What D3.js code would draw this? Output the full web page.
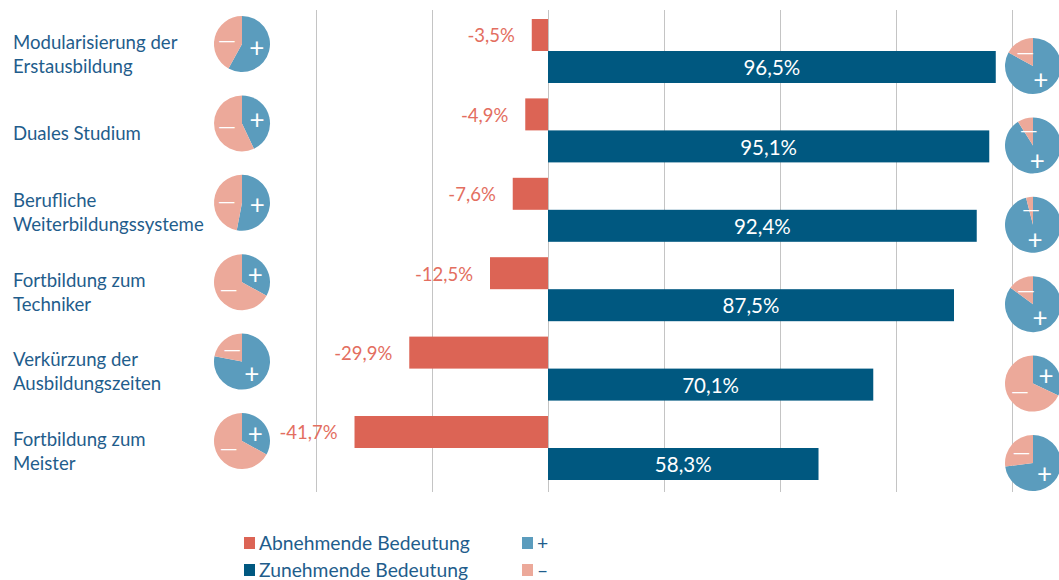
<!DOCTYPE html>
<html>
  <head lang="de">
    <meta charset="utf-8">
    <title>Bedeutung</title>
    <script src="https://cdn.jsdelivr.net/npm/d3@7"></script>
    <style>
      body { margin: 0; background: #fff; }
      text { font-family: Lato, "Open Sans", sans-serif; }
    </style>
  </head>
  <body>
    <script>

      // data
      var categories = [
        ["Modularisierung der", "Erstausbildung"],
        ["Duales Studium"],
        ["Berufliche", "Weiterbildungssysteme"],
        ["Fortbildung zum", "Techniker"],
        ["Verkürzung der", "Ausbildungszeiten"],
        ["Fortbildung zum", "Meister"]
      ];
      var abnehmend = [-3.5, -4.9, -7.6, -12.5, -29.9, -41.7];
      var zunehmend = [96.5, 95.1, 92.4, 87.5, 70.1, 58.3];
      // share of "+" in the small pies (percent)
      var pieLeftPlus = [58, 43, 53, 33, 78, 33];
      var pieRightPlus = [83, 91, 96, 85, 32, 73];
      var gridTicks = [-50, -25, 0, 25, 50, 75, 100];

      var red = "#dc6455", dark = "#005880", pieBlue = "#5b9cbd", pink = "#eca99a";
      var textBlue = "#1f5d8c";

      var width = 1059, height = 580;
      var svg = d3.select("body").append("svg")
          .attr("width", width)
          .attr("height", height);

      var x = d3.scaleLinear().domain([-50, 100]).range([316, 1012]);
      var y = d3.scaleBand()
          .domain(d3.range(categories.length))
          .range([19, 19 + 6 * 79.4]);
      var barH = 32;

      function fmt(v) { return v.toFixed(1).replace(".", ",") + "%"; }

      // grid lines
      svg.append("g").selectAll("line")
          .data(gridTicks)
          .enter().append("line")
          .attr("x1", function(d) { return x(d) + 0.5; })
          .attr("x2", function(d) { return x(d) + 0.5; })
          .attr("y1", 10)
          .attr("y2", 492)
          .attr("stroke", "#c4c4c4")
          .attr("stroke-width", 1);

      var rows = svg.append("g").selectAll("g")
          .data(categories)
          .enter().append("g");

      // category labels
      rows.each(function(lines, i) {
        var g = d3.select(this);
        var top = y(i) + 23 + (lines.length == 1 ? 12 : 0);
        lines.forEach(function(t, j) {
          g.append("text")
            .attr("x", 13)
            .attr("y", top + j * 24)
            .attr("dy", "0.35em")
            .attr("font-size", 18.6)
            .attr("fill", textBlue)
            .text(t);
        });
      });

      // red bars
      rows.append("rect")
          .attr("x", function(d, i) { return x(abnehmend[i]); })
          .attr("y", function(d, i) { return y(i); })
          .attr("width", function(d, i) { return x(0) - x(abnehmend[i]); })
          .attr("height", barH)
          .attr("fill", red);

      rows.append("text")
          .attr("x", function(d, i) { return x(abnehmend[i]) - 17; })
          .attr("y", function(d, i) { return y(i) + barH / 2 + 1; })
          .attr("dy", "0.35em")
          .attr("text-anchor", "end")
          .attr("font-size", 18.5)
          .attr("fill", "#e36e60")
          .text(function(d, i) { return fmt(abnehmend[i]); });

      // blue bars
      rows.append("rect")
          .attr("x", x(0))
          .attr("y", function(d, i) { return y(i) + barH; })
          .attr("width", function(d, i) { return x(zunehmend[i]) - x(0); })
          .attr("height", barH)
          .attr("fill", dark);

      rows.append("text")
          .attr("x", function(d, i) { return (x(0) + x(zunehmend[i])) / 2; })
          .attr("y", function(d, i) { return y(i) + barH * 1.5 + 1; })
          .attr("dy", "0.35em")
          .attr("text-anchor", "middle")
          .attr("font-size", 20.5)
          .attr("fill", "#fff")
          .text(function(d, i) { return fmt(zunehmend[i]); });

      // small pies
      var r = 28;
      var pie = d3.pie().sort(null);
      var arc = d3.arc().innerRadius(0).outerRadius(r);
      var labelArc = d3.arc().innerRadius(r * 0.55).outerRadius(r * 0.55);

      function drawPie(cx, cy, plus) {
        var g = svg.append("g").attr("transform", "translate(" + cx + "," + cy + ")");
        var arcs = pie([plus, 100 - plus]);
        g.selectAll("path")
          .data(arcs)
          .enter().append("path")
          .attr("d", arc)
          .attr("fill", function(d, i) { return i == 0 ? pieBlue : pink; });
        g.selectAll("text")
          .data(arcs)
          .enter().append("text")
          .attr("transform", function(d) { return "translate(" + labelArc.centroid(d) + ")"; })
          .attr("text-anchor", "middle")
          .attr("dy", function(d, i) { return i == 0 ? "0.36em" : "0.32em"; })
          .style("font-family", function(d, i) { return i == 0 ? null : "'DejaVu Sans'"; })
          .attr("font-size", function(d, i) { return i == 0 ? 26 : 17; })
          .attr("fill", "#fff")
          .text(function(d, i) { return i == 0 ? "+" : "—"; });
      }

      categories.forEach(function(c, i) {
        drawPie(242, y(i) + 25, pieLeftPlus[i]);
        drawPie(1033, y(i) + 47, pieRightPlus[i]);
      });

      // legend
      var legend = [
        {label: "Abnehmende Bedeutung", color: red, x: 244, y: 543},
        {label: "Zunehmende Bedeutung", color: dark, x: 244, y: 570},
        {label: "+", color: pieBlue, x: 522, y: 543},
        {label: "–", color: pink, x: 522, y: 570}
      ];
      var lg = svg.append("g").selectAll("g")
          .data(legend)
          .enter().append("g");
      lg.append("rect")
          .attr("x", function(d) { return d.x; })
          .attr("y", function(d) { return d.y - 6; })
          .attr("width", 11)
          .attr("height", 12)
          .attr("fill", function(d) { return d.color; });
      lg.append("text")
          .attr("x", function(d) { return d.x + 15; })
          .attr("y", function(d) { return d.y; })
          .attr("dy", "0.35em")
          .attr("font-size", 19.3)
          .attr("fill", textBlue)
          .text(function(d) { return d.label; });
    </script>
  </body>
</html>
